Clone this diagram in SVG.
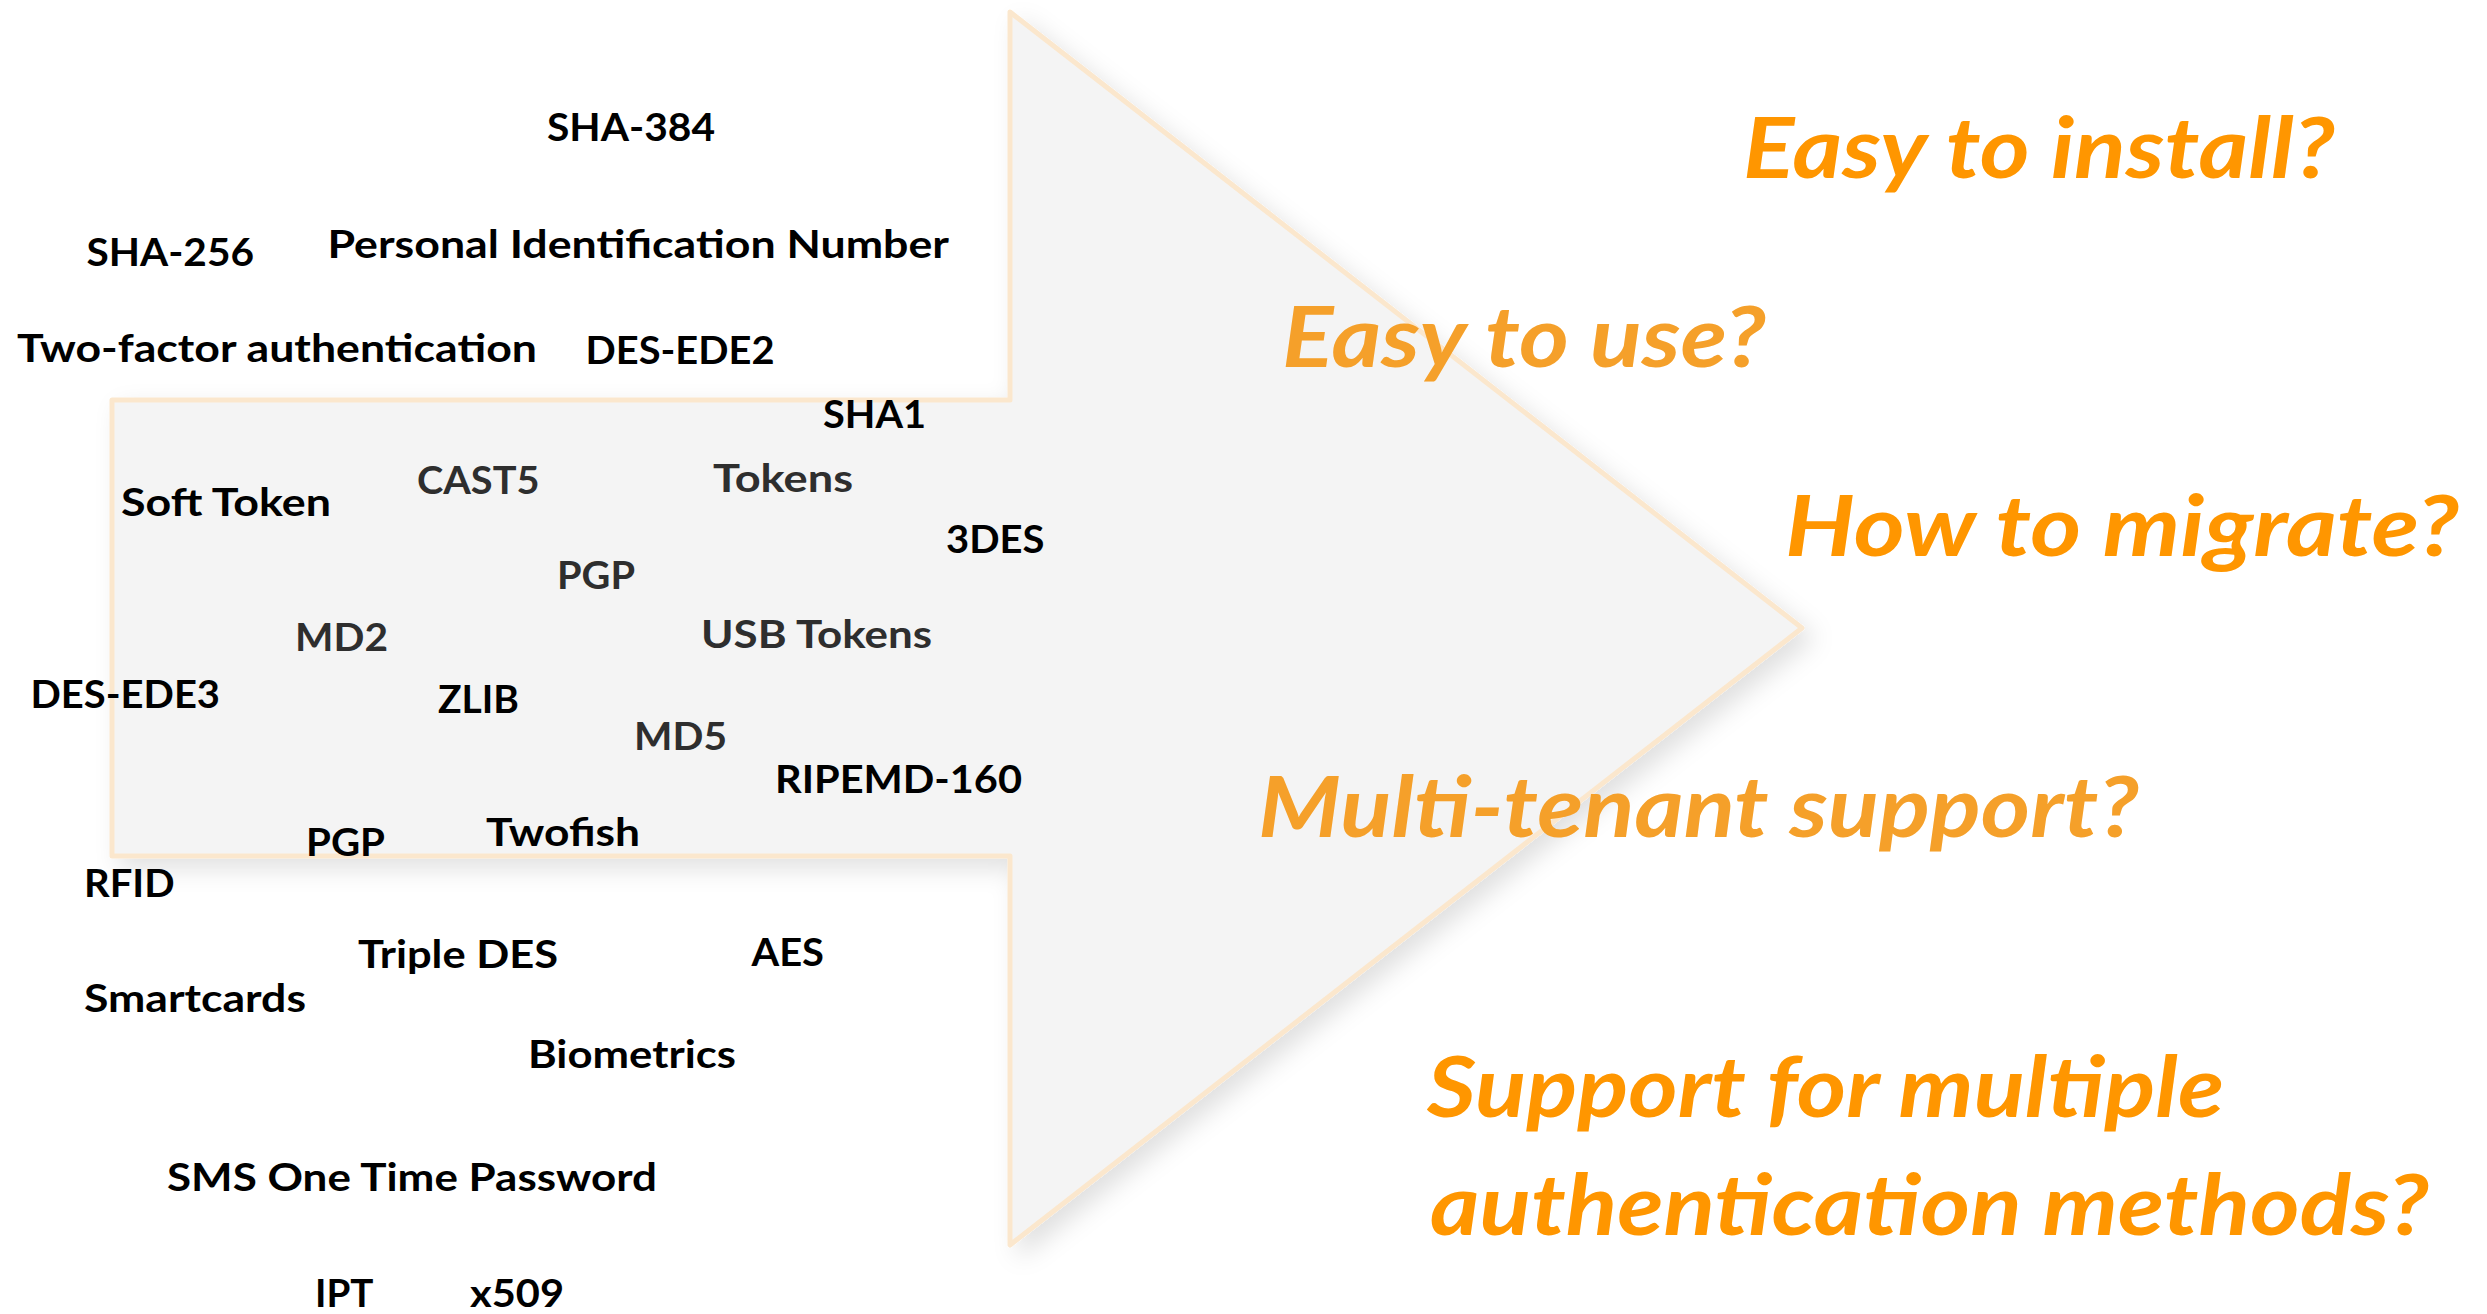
<svg xmlns="http://www.w3.org/2000/svg" width="2487" height="1314" viewBox="0 0 2487 1314">
<defs>
<filter id="shadow" x="-10%" y="-10%" width="130%" height="130%">
<feDropShadow dx="10" dy="10" stdDeviation="12" flood-color="#000" flood-opacity="0.12"/>
</filter>
<style>
.lbl{font-family:Lato,"Open Sans","Liberation Sans",sans-serif;font-weight:700;font-size:39px;fill:#000}
.gry{fill:#2e2e2e}
.q{font-family:Lato,"Open Sans","Liberation Sans",sans-serif;font-weight:700;font-style:italic;font-size:84px;fill:#FF9600}
.ql{fill:#F5A02A}
</style>
</defs>
<rect width="2487" height="1314" fill="#fff"/>
<g id="arrow">
<path d="M112,400 L1010,400 L1010,12 L1802,628 L1010,1245 L1010,856 L112,856 Z" fill="#F4F4F4" stroke="#FBE7CD" stroke-width="5" stroke-linejoin="round" filter="url(#shadow)"/>
</g>
<g id="labels">
<g id="n-sha384"><text class="lbl" x="547" y="141" textLength="168" lengthAdjust="spacingAndGlyphs">SHA-384</text></g>
<g id="n-sha256"><text class="lbl" x="86.5" y="265.5" textLength="167.5" lengthAdjust="spacingAndGlyphs">SHA-256</text></g>
<g id="n-pin"><text class="lbl" x="327.5" y="257.5" textLength="621.5" lengthAdjust="spacingAndGlyphs">Personal Identification Number</text></g>
<g id="n-2fa"><text class="lbl" x="17" y="361.5" textLength="520" lengthAdjust="spacingAndGlyphs">Two-factor authentication</text></g>
<g id="n-desede2"><text class="lbl" x="585.5" y="363.5" textLength="189" lengthAdjust="spacingAndGlyphs">DES-EDE2</text></g>
<g id="n-sha1"><text class="lbl" x="823" y="428" textLength="103" lengthAdjust="spacingAndGlyphs">SHA1</text></g>
<g id="n-cast5"><text class="lbl gry" x="417" y="494" textLength="122.5" lengthAdjust="spacingAndGlyphs">CAST5</text></g>
<g id="n-tokens"><text class="lbl gry" x="713" y="492" textLength="140" lengthAdjust="spacingAndGlyphs">Tokens</text></g>
<g id="n-softtoken"><text class="lbl" x="121" y="515.5" textLength="210" lengthAdjust="spacingAndGlyphs">Soft Token</text></g>
<g id="n-3des"><text class="lbl" x="946" y="553" textLength="98.5" lengthAdjust="spacingAndGlyphs">3DES</text></g>
<g id="n-pgp1"><text class="lbl gry" x="557" y="589" textLength="78" lengthAdjust="spacingAndGlyphs">PGP</text></g>
<g id="n-md2"><text class="lbl gry" x="295" y="651" textLength="93" lengthAdjust="spacingAndGlyphs">MD2</text></g>
<g id="n-usbtokens"><text class="lbl gry" x="701" y="648" textLength="231" lengthAdjust="spacingAndGlyphs">USB Tokens</text></g>
<g id="n-desede3"><text class="lbl" x="30.5" y="708" textLength="189.5" lengthAdjust="spacingAndGlyphs">DES-EDE3</text></g>
<g id="n-zlib"><text class="lbl" x="438" y="712.5" textLength="81" lengthAdjust="spacingAndGlyphs">ZLIB</text></g>
<g id="n-md5"><text class="lbl gry" x="634" y="750" textLength="93" lengthAdjust="spacingAndGlyphs">MD5</text></g>
<g id="n-ripemd"><text class="lbl" x="775" y="793" textLength="247" lengthAdjust="spacingAndGlyphs">RIPEMD-160</text></g>
<g id="n-pgp2"><text class="lbl" x="306" y="856" textLength="79" lengthAdjust="spacingAndGlyphs">PGP</text></g>
<g id="n-twofish"><text class="lbl" x="486" y="845.5" textLength="154" lengthAdjust="spacingAndGlyphs">Twofish</text></g>
<g id="n-rfid"><text class="lbl" x="84" y="897" textLength="90.5" lengthAdjust="spacingAndGlyphs">RFID</text></g>
<g id="n-tripledes"><text class="lbl" x="358" y="968" textLength="200" lengthAdjust="spacingAndGlyphs">Triple DES</text></g>
<g id="n-aes"><text class="lbl" x="751.5" y="965.5" textLength="72.5" lengthAdjust="spacingAndGlyphs">AES</text></g>
<g id="n-smartcards"><text class="lbl" x="84" y="1012" textLength="222" lengthAdjust="spacingAndGlyphs">Smartcards</text></g>
<g id="n-biometrics"><text class="lbl" x="528" y="1068" textLength="208" lengthAdjust="spacingAndGlyphs">Biometrics</text></g>
<g id="n-sms"><text class="lbl" x="167" y="1191" textLength="490" lengthAdjust="spacingAndGlyphs">SMS One Time Password</text></g>
<g id="n-ipt"><text class="lbl" x="315" y="1306.5" textLength="58.5" lengthAdjust="spacingAndGlyphs">IPT</text></g>
<g id="n-x509"><text class="lbl" x="470" y="1306.5" textLength="94" lengthAdjust="spacingAndGlyphs">x509</text></g>
</g>
<g id="questions">
<g id="q-install"><text class="q" x="1743" y="178" textLength="592" lengthAdjust="spacingAndGlyphs">Easy to install?</text></g>
<g id="q-use"><text class="q ql" x="1282" y="367" textLength="484" lengthAdjust="spacingAndGlyphs">Easy to use?</text></g>
<g id="q-migrate"><text class="q" x="1785" y="556" textLength="674" lengthAdjust="spacingAndGlyphs">How to migrate?</text></g>
<g id="q-multitenant"><text class="q ql" x="1258" y="836.5" textLength="881" lengthAdjust="spacingAndGlyphs">Multi-tenant support?</text></g>
<g id="q-multiauth"><text class="q" x="1427" y="1116.5" textLength="797" lengthAdjust="spacingAndGlyphs">Support for multiple</text><text class="q" x="1430" y="1234.5" textLength="999" lengthAdjust="spacingAndGlyphs">authentication methods?</text></g>
</g>
</svg>
